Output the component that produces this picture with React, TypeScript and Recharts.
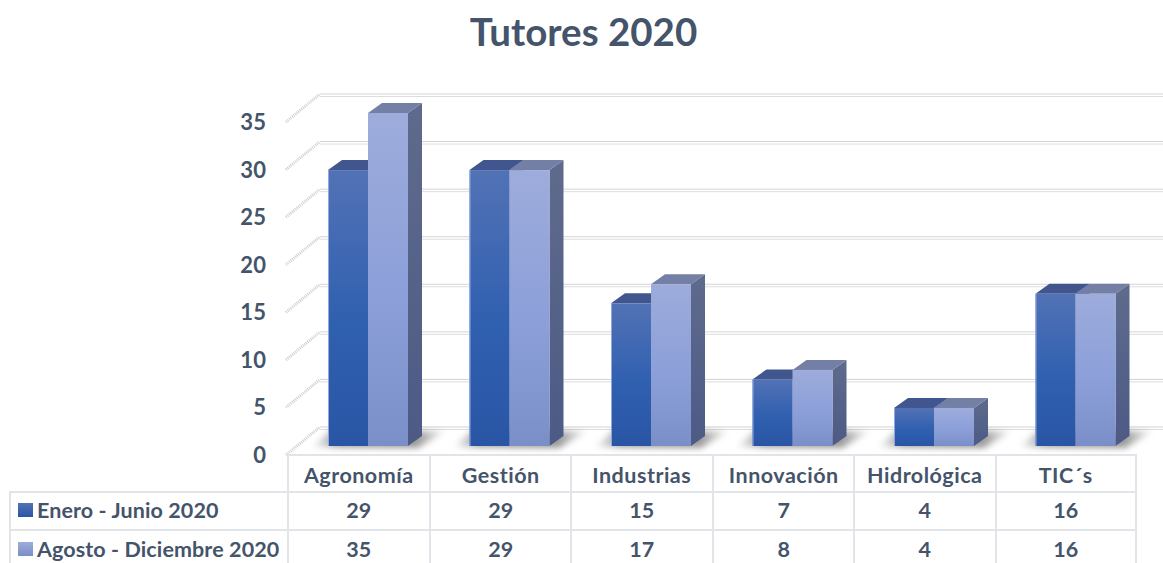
import { BarChart, Bar, XAxis, YAxis, CartesianGrid } from "recharts";

const categories = ["Agronomía", "Gestión", "Industrias", "Innovación", "Hidrológica", "TIC´s"];
const enero = [29, 29, 15, 7, 4, 16];
const agosto = [35, 29, 17, 8, 4, 16];
const yTicks = [0, 5, 10, 15, 20, 25, 30, 35];
const seriesNames = ["Enero - Junio 2020", "Agosto - Diciembre 2020"];

const data = categories.map((name, i) => ({ name, enero: enero[i], agosto: agosto[i] }));

const TEXT = "#44546a";
const FONT = "Lato, 'Open Sans', sans-serif";
const BORDER = "#e1e5ea";
const DEPTH_X = 14;
const DEPTH_Y = 10;

// 3D column: front face, top and side, the depth is a fixed offset
function Column({ x, y, width, height, kind }: any) {
  const isFirst = kind === "a";
  const top = isFirst ? "#41568f" : "#737fa5";
  const base = y + height;
  return (
    <g>
      {isFirst && (
        <polygon
          points={`${x - 16},${base + 1} ${x + 2},${base - 15} ${x + 2 * width + 38},${base - 15} ${x + 2 * width + 10},${base + 2}`}
          fill="url(#floorShadow)"
          filter="url(#soft)"
        />
      )}
      <polygon
        points={`${x + width},${y} ${x + width + DEPTH_X},${y - DEPTH_Y} ${x + width + DEPTH_X},${base - DEPTH_Y} ${x + width},${base}`}
        fill={isFirst ? "#41568f" : "url(#sideGrad)"}
      />
      <polygon
        points={`${x},${y} ${x + DEPTH_X},${y - DEPTH_Y} ${x + width + DEPTH_X},${y - DEPTH_Y} ${x + width},${y}`}
        fill={top}
      />
      <rect x={x} y={y} width={width} height={height} fill={isFirst ? "url(#frontA)" : "url(#frontB)"} />
      {isFirst && <rect x={x} y={y} width={1} height={height} fill="#8fa8e0" />}
    </g>
  );
}

// back wall line plus the hatched step on the left side
function WallLine({ y1 }: any) {
  const wallY = y1 - 19;
  return (
    <g key={y1}>
      <line x1={286} y1={y1 + 9} x2={320} y2={wallY} stroke="#cfcfcf" strokeWidth={3} strokeDasharray="1 1" />
      <line x1={320} y1={wallY} x2={1163} y2={wallY} stroke="#d4d4d4" strokeWidth={1} />
      <line x1={320} y1={wallY + 2.5} x2={1163} y2={wallY + 2.5} stroke="#dddddd" strokeWidth={1} />
    </g>
  );
}

function YTick({ y, payload }: any) {
  return (
    <text x={266} y={y + 8.5} textAnchor="end" dominantBaseline="central" fontFamily={FONT} fontWeight={700} fontSize={22} fill={TEXT}>
      {payload.value}
    </text>
  );
}

const cell = { position: "absolute", display: "flex", alignItems: "center", justifyContent: "center", boxSizing: "border-box" } as const;
const colX = [287, 429, 570, 712, 853, 995];
const COL_W = 141.5;
const rowY = [454, 491, 529];
const ROW_H = [37, 38, 38];

function DataTable() {
  const rows = [categories, enero, agosto];
  return (
    <>
      {rows.map((row, r) =>
        row.map((v, c) => (
          <div
            key={`${r}-${c}`}
            style={{
              ...cell,
              left: colX[c],
              top: rowY[r],
              width: COL_W,
              height: ROW_H[r],
              paddingBottom: r === 1 ? 2 : 0,
              paddingTop: r === 0 ? 3 : 0,
              letterSpacing: r === 0 ? 0.5 : 0.1,
              borderLeft: `2px solid ${BORDER}`,
              borderTop: `2px solid ${BORDER}`,
              borderRight: c === 5 ? `2px solid ${BORDER}` : undefined,
            }}
          >
            {v}
          </div>
        ))
      )}
      {seriesNames.map((name, i) => (
        <div
          key={name}
          style={{
            ...cell,
            justifyContent: "flex-start",
            left: 9,
            top: rowY[i + 1],
            width: 278,
            height: ROW_H[i + 1],
            paddingBottom: i === 0 ? 2 : 0,
            borderLeft: `2px solid ${BORDER}`,
            borderTop: `2px solid ${BORDER}`,
            paddingLeft: 7,
          }}
        >
          <span
            style={{
              width: 15,
              height: 14,
              marginRight: 4,
              background: i === 0 ? "linear-gradient(#5272b5,#2a55a5)" : "linear-gradient(#9dacdb,#7a8fc8)",
            }}
          />
          {name}
        </div>
      ))}
    </>
  );
}

export default function App() {
  return (
    <div
      style={{
        position: "absolute",
        left: 0,
        top: 0,
        width: 1163,
        height: 563,
        overflow: "hidden",
        background: "#fff",
        fontFamily: FONT,
        fontWeight: 700,
        fontSize: 21.5,
        letterSpacing: 0.1,
        color: TEXT,
      }}
    >
      <div style={{ position: "absolute", left: 0, width: 1163, top: 6, paddingLeft: 4, boxSizing: "border-box", textAlign: "center", fontSize: 38.5, letterSpacing: 0, lineHeight: "50px" }}>
        Tutores 2020
      </div>
      <BarChart
        width={1163}
        height={563}
        data={data}
        barSize={40}
        barGap={0}
        margin={{ top: 113, right: 17, bottom: 117, left: 257 }}
        style={{ position: "absolute", left: 0, top: 0 }}
      >
        <defs>
          <linearGradient id="frontA" x1="0" y1="0" x2="0" y2="1">
            <stop offset="0" stopColor="#5272b5" />
            <stop offset="0.55" stopColor="#3060b0" />
            <stop offset="1" stopColor="#2a55a5" />
          </linearGradient>
          <linearGradient id="frontB" x1="0" y1="0" x2="0" y2="1">
            <stop offset="0" stopColor="#9dacdb" />
            <stop offset="0.55" stopColor="#8c9fd9" />
            <stop offset="1" stopColor="#7a8fc8" />
          </linearGradient>
          <linearGradient id="sideGrad" x1="0" y1="0" x2="0" y2="1">
            <stop offset="0" stopColor="#5f6b8c" />
            <stop offset="1" stopColor="#4c5a85" />
          </linearGradient>
          <linearGradient id="floorShadow" x1="0" y1="0" x2="1" y2="0">
            <stop offset="0" stopColor="#000" stopOpacity={0.02} />
            <stop offset="0.2" stopColor="#000" stopOpacity={0.4} />
            <stop offset="0.78" stopColor="#000" stopOpacity={0.4} />
            <stop offset="1" stopColor="#000" stopOpacity={0.02} />
          </linearGradient>
          <filter id="soft" x="-20%" y="-50%" width="140%" height="200%">
            <feGaussianBlur stdDeviation="3" />
          </filter>
        </defs>
        <CartesianGrid vertical={false} horizontal={(p: any) => <WallLine {...p} />} />
        <XAxis dataKey="name" hide />
        <YAxis domain={[0, 35]} ticks={yTicks} width={40} axisLine={false} tickLine={false} tick={(p: any) => <YTick {...p} />} interval={0} />
        <Bar dataKey="enero" isAnimationActive={false} shape={(p: any) => <Column {...p} kind="a" />} />
        <Bar dataKey="agosto" isAnimationActive={false} shape={(p: any) => <Column {...p} kind="b" />} />
      </BarChart>
      <DataTable />
    </div>
  );
}
